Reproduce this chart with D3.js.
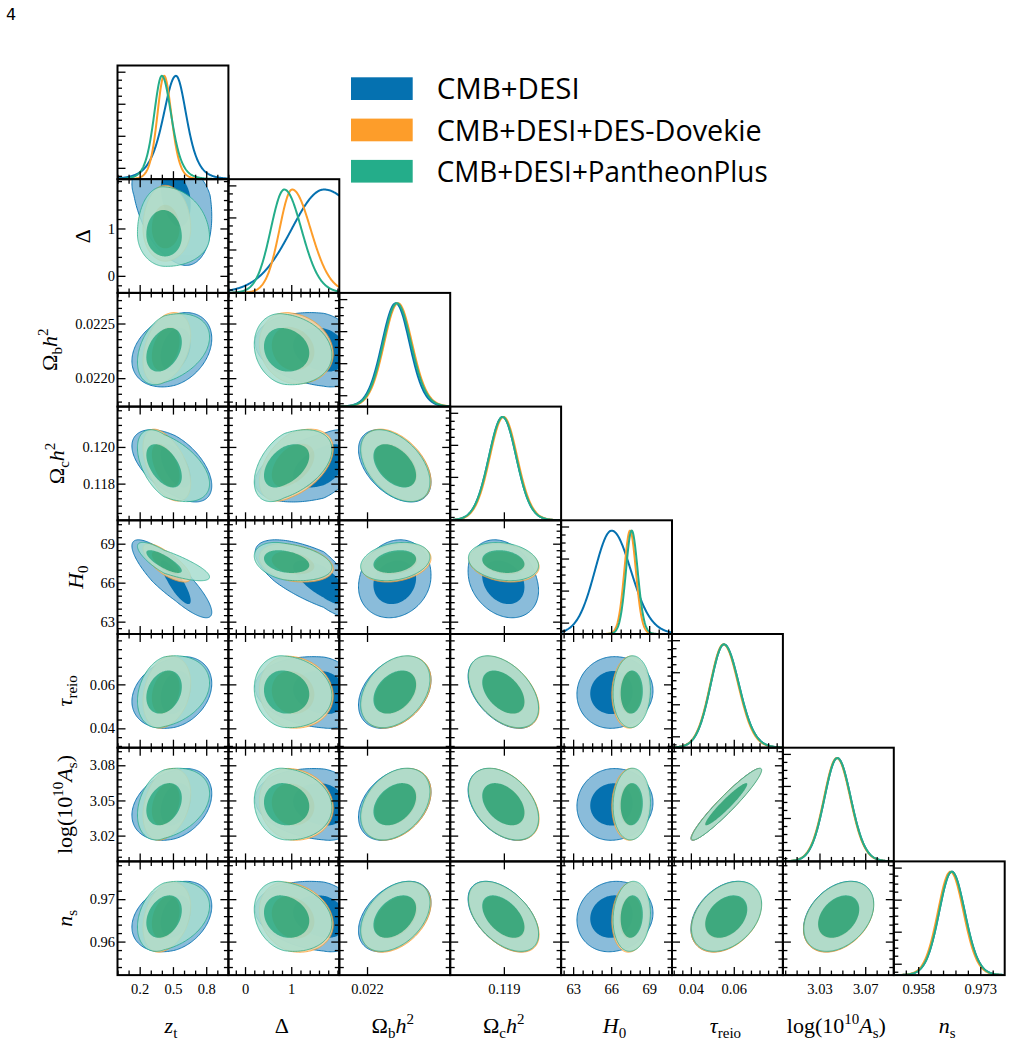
<!DOCTYPE html>
<html>
<head>
<meta charset="utf-8">
<script src="https://cdn.jsdelivr.net/npm/d3@7"></script>
<style>
  body { margin: 0; background: #fff; }
  svg { display: block; }
</style>
</head>
<body>
<script>
// triangle plot, 8 parameters, 3 data combinations

const W = 1011, H = 1045;
const gridLeft = 117.5, gridTop = 65.5;
const pw = 110.9, ph = 113.7;
const nPar = 8;

// parameter axes
const domains = [[0, 1], [-0.36, 2.04], [0.02174, 0.02278], [0.1160, 0.1222],
                 [62.05, 70.8], [0.0312, 0.0829], [2.998, 3.095], [0.9521, 0.9789]];

const xMajor = [[0.2, 0.5, 0.8], [0, 1], [0.022], [0.119], [63, 66, 69], [0.04, 0.06], [3.03, 3.07], [0.958, 0.973]];
const xTickLabels = [["0.2", "0.5", "0.8"], ["0", "1"], ["0.022"], ["0.119"], ["63", "66", "69"],
                     ["0.04", "0.06"], ["3.03", "3.07"], ["0.958", "0.973"]];
const xMinorStep = [0.1, 0.2, null, null, 0.75, 0.004, 0.01, 0.003];

const yMajor = [[], [0, 1], [0.0220, 0.0225], [0.118, 0.120], [63, 66, 69], [0.04, 0.06], [3.02, 3.05, 3.08], [0.96, 0.97]];
const yTickLabels = [[], ["0", "1"], ["0.0220", "0.0225"], ["0.118", "0.120"], ["63", "66", "69"],
                     ["0.04", "0.06"], ["3.02", "3.05", "3.08"], ["0.96", "0.97"]];
const yMinorStep = [null, 0.2, 0.0000714, 0.0004, 0.5, 0.004, 0.006, 0.002];

const densMajor = [0.11, 0.42, 0.73, 1.04];
const densMinorStep = 0.0775;

// axis titles: [text, style] pieces
const titles = [
  [["z", "i"], ["t", "sub"]],
  [["\u0394", ""]],
  [["\u03a9", ""], ["b", "sub"], ["h", "i"], ["2", "sup"]],
  [["\u03a9", ""], ["c", "sub"], ["h", "i"], ["2", "sup"]],
  [["H", "i"], ["0", "sub"]],
  [["\u03c4", "i"], ["reio", "sub"]],
  [["log(10", ""], ["10", "sup"], ["A", "i"], ["s", "sub"], [")", ""]],
  [["n", "i"], ["s", "sub"]]
];

const legendLabels = ["CMB+DESI", "CMB+DESI+DES-Dovekie", "CMB+DESI+PantheonPlus"];
const legendWidths = [143, 325, 331];
const colors = ["#0571b0", "#fd9d2a", "#24ad8a"];

// 1D marginals: [peak, sigma left, sigma right, tail dof]
const blue1D = [[0.527, 0.12, 0.10, 5], [1.71, 0.72, 0.95, 30], [0.02227, 0.000132, 0.000132, 30],
                [0.11893, 0.00078, 0.00078, 30], [66.04, 1.35, 1.55, 30], [0.0554, 0.0063, 0.0071, 30],
                [3.0456, 0.0115, 0.0120, 30], [0.9661, 0.0031, 0.0032, 30]];
const orange1D = [[0.42, 0.064, 0.07, 8], [1.02, 0.28, 0.41, 30], [0.02229, 0.000132, 0.000135, 30],
                  [0.11898, 0.00078, 0.00078, 30], [67.49, 0.46, 0.47, 30], [0.0552, 0.0063, 0.0070, 30],
                  [3.0452, 0.0115, 0.0120, 30], [0.9658, 0.0031, 0.0032, 30]];
const green1D = [[0.40, 0.075, 0.09, 6], [0.85, 0.30, 0.38, 30], [0.02228, 0.000132, 0.000135, 30],
                 [0.11893, 0.00078, 0.00078, 30], [67.62, 0.46, 0.48, 30], [0.0554, 0.0063, 0.0071, 30],
                 [3.0456, 0.0115, 0.0120, 30], [0.9661, 0.0031, 0.0032, 30]];

// 2D contours: [centre, 68% low, 68% high, 95% low, 95% high] extents
const blue2D = [[0.52, 0.13, 0.14, 0.39, 0.33], [1.70, 0.66, 0.5, 1.48, 0.8],
                [0.02226, 0.0002, 0.0002, 0.00034, 0.00034], [0.11897, 0.00118, 0.00118, 0.00197, 0.00197],
                [66.1, 1.75, 1.6, 2.8, 3.2], [0.0563, 0.0098, 0.0098, 0.0163, 0.0163],
                [3.0466, 0.018, 0.018, 0.0306, 0.0306], [0.9659, 0.0050, 0.0050, 0.0083, 0.0083]];
const orange2D = [[0.43, 0.12, 0.13, 0.20, 0.23], [1.0, 0.42, 0.5, 0.69, 0.91],
                  [0.02227, 0.0002, 0.0002, 0.00032, 0.00033], [0.11900, 0.00118, 0.00118, 0.00195, 0.00197],
                  [67.5, 0.85, 0.9, 1.45, 1.5], [0.0563, 0.0098, 0.0098, 0.0162, 0.0165],
                  [3.0466, 0.018, 0.018, 0.0305, 0.0307], [0.9657, 0.0050, 0.0050, 0.0082, 0.0083]];
const green2D = [[0.42, 0.16, 0.16, 0.24, 0.41], [0.85, 0.44, 0.54, 0.65, 1.03],
                 [0.02226, 0.0002, 0.0002, 0.00032, 0.00033], [0.11897, 0.00118, 0.00118, 0.00195, 0.00197],
                 [67.6, 0.85, 0.9, 1.45, 1.5], [0.0565, 0.0098, 0.0098, 0.0162, 0.0165],
                 [3.0468, 0.018, 0.018, 0.0305, 0.0307], [0.9659, 0.0050, 0.0050, 0.0082, 0.0083]];

// correlations, row j / column i (j > i)
const rhoBlue = [[], [-0.3], [0.3, -0.2], [-0.55, 0.45, -0.45], [-0.85, -0.7, 0.15, -0.25],
                 [0.25, -0.15, 0.35, -0.45, 0.05], [0.3, -0.15, 0.35, -0.4, 0.05, 0.95],
                 [0.3, -0.2, 0.4, -0.5, 0.1, 0.35, 0.35]];
const rhoOrange = [[], [0.0], [0.35, -0.15], [-0.5, 0.45, -0.45], [-0.75, -0.3, 0.25, -0.2],
                   [0.25, -0.1, 0.35, -0.45, 0.05], [0.3, -0.1, 0.35, -0.4, 0.05, 0.95],
                   [0.3, -0.2, 0.4, -0.5, 0.1, 0.35, 0.35]];
const rhoGreen = [[], [-0.05], [0.35, -0.15], [-0.5, 0.45, -0.45], [-0.8, -0.3, 0.25, -0.2],
                  [0.25, -0.1, 0.35, -0.45, 0.05], [0.3, -0.1, 0.35, -0.4, 0.05, 0.95],
                  [0.3, -0.2, 0.4, -0.5, 0.1, 0.35, 0.35]];

const sets = [
  {color: colors[0], one: blue1D, two: blue2D, rho: rhoBlue, light: 0.47, alpha: 1},
  {color: colors[1], one: orange1D, two: orange2D, rho: rhoOrange, light: 0.45, alpha: 0.85},
  {color: colors[2], one: green1D, two: green2D, rho: rhoGreen, light: 0.40, alpha: 0.85}
];

const colX = c => gridLeft + c * pw;
const rowY = r => gridTop + r * ph;

const xs = domains.map((d, c) => d3.scaleLinear().domain(d).range([colX(c), colX(c) + pw]));
const ys = domains.map((d, r) => d3.scaleLinear().domain(d).range([rowY(r) + ph, rowY(r)]));
const dens = d3.range(nPar).map(r => d3.scaleLinear().domain([0, 1.1]).range([rowY(r) + ph, rowY(r)]));

function minorTicks(domain, majors, step) {
  if (!step) return [];
  const a = majors[0];
  const out = [];
  let k0 = Math.ceil((domain[0] - a) / step);
  for (let k = k0; a + k * step <= domain[1] + 1e-12; k++) {
    const v = a + k * step;
    if (!majors.some(m => Math.abs(m - v) < step * 0.1)) out.push(v);
  }
  return out;
}

function density(p, v) {
  const [pk, sl, sh, nu] = p;
  const u = (v - pk) / (v < pk ? sl : sh);
  return Math.pow(1 + u * u / nu, -(nu + 1) / 2);
}

const svg = d3.select("body").append("svg")
    .attr("width", W)
    .attr("height", H);

svg.append("rect").attr("width", W).attr("height", H).attr("fill", "#fff");

svg.append("text")
    .attr("x", 6).attr("y", 20)
    .attr("font-family", "DejaVu Sans").attr("font-size", 16)
    .text("4");

const defs = svg.append("defs");

function styleAxis(g) {
  g.select(".domain").remove();
  g.selectAll(".tick line").attr("stroke", "#000").attr("stroke-width", 1.3);
  g.attr("font-family", "Liberation Serif").attr("font-size", 14.5);
  g.selectAll("text").attr("fill", "#000");
}

function addAxis(axisFn, scale, major, minor, transform, labels) {
  const gMaj = svg.append("g").attr("transform", transform)
    .call(axisFn(scale).tickValues(major).tickSize(-8).tickPadding(labels ? 9 : 3)
      .tickFormat((d, i) => labels ? labels[i] : ""));
  styleAxis(gMaj);
  if (minor.length) {
    const gMin = svg.append("g").attr("transform", transform)
      .call(axisFn(scale).tickValues(minor).tickSize(-4.5).tickFormat(""));
    styleAxis(gMin);
  }
  return gMaj;
}

function drawTitle(x, y, pieces, rotate) {
  const t = svg.append("text")
    .attr("transform", rotate ? `translate(${x},${y}) rotate(-90)` : `translate(${x},${y})`)
    .attr("text-anchor", "middle")
    .attr("font-family", "Liberation Serif")
    .attr("font-size", 22)
    .attr("fill", "#000");
  let shift = 0;
  pieces.forEach(([txt, st]) => {
    let target = 0, size = 22;
    if (st === "sub") { target = 5; size = 15; }
    if (st === "sup") { target = -9; size = 15; }
    t.append("tspan")
      .attr("dy", target - shift)
      .attr("font-size", size)
      .attr("font-style", st === "i" ? "italic" : "normal")
      .text(txt);
    shift = target;
  });
}

for (let r = 0; r < nPar; r++) {
  for (let c = 0; c <= r; c++) {
    const x0 = colX(c), y0 = rowY(r);
    const id = `clip-${r}-${c}`;
    defs.append("clipPath").attr("id", id)
      .append("rect").attr("x", x0).attr("y", y0).attr("width", pw).attr("height", ph);
    const plot = svg.append("g").attr("clip-path", `url(#${id})`);

    if (r === c) {
      // 1D marginal
      const sample = d3.range(301).map(k => domains[c][0] + (domains[c][1] - domains[c][0]) * k / 300);
      sets.forEach(s => {
        const line = d3.line()
          .x(v => xs[c](v))
          .y(v => dens[r](density(s.one[c], v)));
        plot.append("path")
          .attr("d", line(sample))
          .attr("fill", "none")
          .attr("stroke", s.color)
          .attr("stroke-width", 2);
      });
      const bottomLabels = r === nPar - 1 ? xTickLabels[c] : null;
      addAxis(d3.axisBottom, xs[c], xMajor[c], minorTicks(domains[c], xMajor[c], xMinorStep[c]),
        `translate(0,${y0 + ph})`, bottomLabels);
      addAxis(d3.axisLeft, dens[r], densMajor, minorTicks([0, 1.1], densMajor, densMinorStep),
        `translate(${x0},0)`, null);
    } else {
      // 2D contours: x = param c, y = param r
      sets.forEach(s => {
        const g = plot.append("g").attr("opacity", s.alpha);
        const rho = s.rho[r][c];
        const px = s.two[c], py = s.two[r];
        const light = d3.interpolateRgb("#ffffff", s.color)(s.light);
        [1, 0].forEach(lev => {
          const pts = d3.range(180).map(k => {
            const t = 2 * Math.PI * k / 180;
            const a = Math.cos(t);
            const b = rho * a + Math.sqrt(1 - rho * rho) * Math.sin(t);
            const ex = a < 0 ? px[lev ? 3 : 1] : px[lev ? 4 : 2];
            const ey = b < 0 ? py[lev ? 3 : 1] : py[lev ? 4 : 2];
            return [xs[c](px[0] + a * ex), ys[r](py[0] + b * ey)];
          });
          g.append("path")
            .attr("d", d3.line().curve(d3.curveLinearClosed)(pts))
            .attr("fill", lev ? light : s.color)
            .attr("stroke", lev ? s.color : "none")
            .attr("stroke-width", 0.9);
        });
      });
      const bottomLabels = r === nPar - 1 ? xTickLabels[c] : null;
      const xMin = minorTicks(domains[c], xMajor[c], xMinorStep[c]);
      const yMin = minorTicks(domains[r], yMajor[r], yMinorStep[r]);
      addAxis(d3.axisBottom, xs[c], xMajor[c], xMin, `translate(0,${y0 + ph})`, bottomLabels);
      addAxis(d3.axisTop, xs[c], xMajor[c], xMin, `translate(0,${y0})`, null);
      const gl = addAxis(d3.axisLeft, ys[r], yMajor[r], yMin, `translate(${x0},0)`,
        c === 0 ? yTickLabels[r] : null);
      addAxis(d3.axisRight, ys[r], yMajor[r], yMin, `translate(${x0 + pw},0)`, null);

      if (c === 0) {
        // y title placed left of the widest tick label
        gl.selectAll(".tick text").attr("x", -2.5);
        let maxLen = 0;
        gl.selectAll(".tick text").each(function () {
          maxLen = Math.max(maxLen, this.getComputedTextLength());
        });
        const labelLeft = x0 - 2.5 - maxLen;
        drawTitle(labelLeft - 18, y0 + ph / 2, titles[r], true);
      }
    }

    svg.append("rect")
      .attr("x", x0).attr("y", y0).attr("width", pw).attr("height", ph)
      .attr("fill", "none").attr("stroke", "#000").attr("stroke-width", 2);
  }
}

// x titles
for (let c = 0; c < nPar; c++) {
  drawTitle(colX(c) + pw / 2 - 2, 1033, titles[c], false);
}

// legend
const legend = svg.append("g");
const legFont = "Open Sans";
const probe = legend.append("text").attr("font-family", legFont).attr("font-size", 28).text(legendLabels[0]);
const legSize = 28 * 143 / probe.node().getComputedTextLength();
probe.remove();
legendLabels.forEach((lab, i) => {
  const yTop = 77.3 + i * 41.3;
  legend.append("rect")
    .attr("x", 351).attr("y", yTop).attr("width", 61.7).attr("height", 22.7)
    .attr("fill", colors[i]);
  legend.append("text")
    .attr("x", 436.7).attr("y", yTop + 22)
    .attr("font-family", legFont).attr("font-size", legSize)
    .attr("textLength", legendWidths[i])
    .attr("lengthAdjust", "spacingAndGlyphs")
    .attr("fill", "#000")
    .text(lab);
});
</script>
</body>
</html>
